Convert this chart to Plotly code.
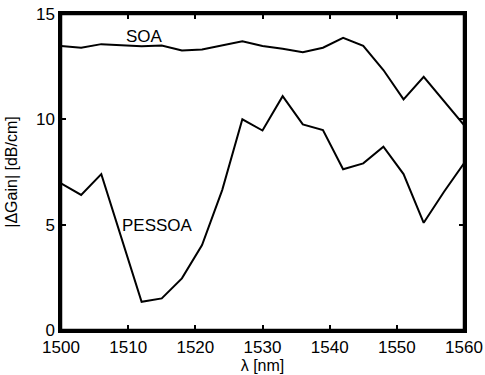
import plotly.graph_objects as go

wavelength = [1500, 1503, 1506, 1509, 1512, 1515, 1518, 1521, 1524, 1527, 1530,
              1533, 1536, 1539, 1542, 1545, 1548, 1551, 1554, 1557, 1560]
soa = [13.48, 13.40, 13.57, 13.52, 13.47, 13.50, 13.27, 13.32, 13.50, 13.71, 13.48,
       13.35, 13.18, 13.40, 13.87, 13.49, 12.34, 10.95, 12.02, 10.90, 9.73]
pessoa = [6.96, 6.41, 7.40, 4.37, 1.34, 1.50, 2.45, 4.03, 6.64, 10.0, 9.47,
          11.1, 9.76, 9.49, 7.63, 7.91, 8.70, 7.40, 5.09, 6.55, 7.91]

label_text = ["SOA", "PESSOA"]
label_x = [1512.5, 1514.4]
label_y = [13.95, 4.98]

FONT = "Liberation Sans, Arial"

fig = go.Figure()
fig.add_trace(go.Scatter(x=wavelength, y=soa, mode="lines",
                         line=dict(color="black", width=2), showlegend=False))
fig.add_trace(go.Scatter(x=wavelength, y=pessoa, mode="lines",
                         line=dict(color="black", width=2), showlegend=False))
for t, xx, yy in zip(label_text, label_x, label_y):
    fig.add_annotation(x=xx, y=yy, text=t, showarrow=False,
                       font=dict(family=FONT, size=17, color="black"))

# frame around the plotting area
fig.add_shape(type="rect", xref="paper", yref="paper", x0=0, x1=1, y0=0, y1=1,
              line=dict(color="black", width=2.5), layer="above")

axis_common = dict(showline=True, linecolor="black", linewidth=2.5, mirror="allticks",
                   ticks="inside", ticklen=5, tickwidth=2, tickcolor="black",
                   showgrid=False, zeroline=False, automargin=False,
                   tickfont=dict(family=FONT, size=17, color="black"))

fig.update_layout(
    width=485, height=375,
    margin=dict(l=61, r=21, t=14, b=45),
    paper_bgcolor="white", plot_bgcolor="white",
    xaxis=dict(range=[1500, 1560], dtick=10, tick0=1500,
               title=dict(text="λ [nm]", standoff=0,
                          font=dict(family=FONT, size=16, color="black")),
               **axis_common),
    yaxis=dict(range=[0, 15], dtick=5, tick0=0,
               title=dict(text="|ΔGain| [dB/cm]", standoff=15,
                          font=dict(family=FONT, size=16, color="black")),
               **axis_common),
)

fig.write_html("out.html", config={"displayModeBar": False},
               post_script="document.body.style.margin='0';")
